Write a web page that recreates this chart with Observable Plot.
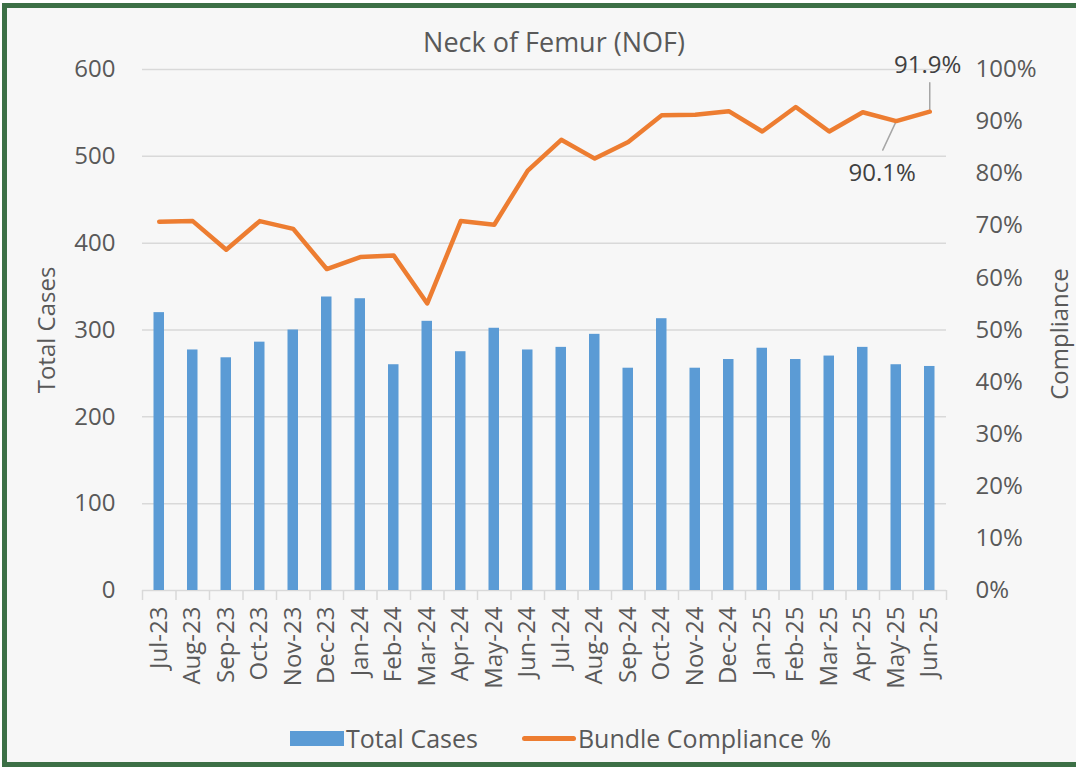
<!DOCTYPE html>
<html>
<head>
<meta charset="utf-8">
<script src="https://cdn.jsdelivr.net/npm/d3@7"></script>
<script src="https://cdn.jsdelivr.net/npm/@observablehq/plot@0.6"></script>
<style>
  html, body { margin: 0; padding: 0; background: #ffffff; width: 1076px; height: 767px; overflow: hidden; }
  body { position: relative; font-family: "Open Sans", sans-serif; color: #595959; }
  #frame { position: absolute; left: 2px; top: 3px; width: 1090px; height: 754px; border: 5px solid #3c7046; background: #f7f7f7; }
  #chart { position: absolute; left: 0; top: 0; }
  #title { position: absolute; left: 554px; top: 24px; transform: translateX(-50%); font-size: 27px; line-height: 36px; white-space: nowrap; color: #595959; }
  #legend { position: absolute; left: 290px; top: 722px; height: 32px; display: flex; align-items: center; font-size: 25px; color: #595959; white-space: nowrap; }
  .sw-bar { width: 54px; height: 15px; background: #5b9bd5; margin-right: 2px; }
  .sw-line { width: 54px; height: 5px; border-radius: 3px; background: #ed7d31; margin-left: 44px; margin-right: 2px; }
</style>
</head>
<body>
<div id="frame"></div>
<div id="chart"></div>
<div id="title">Neck of Femur (NOF)</div>
<div id="legend"><span class="sw-bar"></span><span>Total Cases</span><span class="sw-line"></span><span>Bundle Compliance %</span></div>
<script>
const months = ["Jul-23","Aug-23","Sep-23","Oct-23","Nov-23","Dec-23","Jan-24","Feb-24","Mar-24","Apr-24","May-24","Jun-24","Jul-24","Aug-24","Sep-24","Oct-24","Nov-24","Dec-24","Jan-25","Feb-25","Mar-25","Apr-25","May-25","Jun-25"];
const totalCases = [320,277,268,286,300,338,336,260,310,275,302,277,280,295,256,313,256,266,279,266,270,280,260,258];
const compliance = [70.8,70.9,65.4,70.9,69.4,61.7,64.0,64.3,55.1,70.9,70.2,80.6,86.5,82.9,86.1,91.2,91.3,92.0,88.1,92.8,88.1,91.8,90.1,91.9];
const leftTicks = [0,100,200,300,400,500,600];
const rightTicks = [0,10,20,30,40,50,60,70,80,90,100];
const annotationMonths = ["May-25","Jun-25"];
const annotationLabels = ["90.1%","91.9%"];

const yMax = 600;
const pctToY = p => p * yMax / 100;

const data = months.map((m, i) => ({month: m, cases: totalCases[i], pct: compliance[i]}));
const annos = annotationMonths.map((m, i) => ({month: m, pct: compliance[months.indexOf(m)], label: annotationLabels[i]}));

const W = 1076, H = 710, ML = 142, MR = 130, MT = 69, MB = 120;
const bw = (W - ML - MR) / months.length;
const barW = 10.5;
const grey = "#d9d9d9";
const lineShape = {draw(ctx, l) { ctx.moveTo(0, 0); ctx.lineTo(0, -l); }};

const chart = Plot.plot({
  width: W, height: H,
  marginLeft: ML, marginRight: MR, marginTop: MT, marginBottom: MB,
  style: {background: "transparent", color: "#595959", fontFamily: "Open Sans", overflow: "visible"},
  x: {type: "band", domain: months, padding: 0, round: false},
  y: {domain: [0, yMax]},
  marks: [
    Plot.ruleY(leftTicks, {stroke: grey, strokeWidth: 1.5}),
    Plot.ruleX(months, {x: d => d, y1: 0, y2: -11.5, dx: -bw / 2, stroke: grey, strokeWidth: 1.5}),
    Plot.ruleX(months.slice(-1), {x: d => d, y1: 0, y2: -11.5, dx: bw / 2, stroke: grey, strokeWidth: 1.5}),
    Plot.barY(data, {x: "month", y: "cases", fill: "#5b9bd5", insetLeft: (bw - barW) / 2, insetRight: (bw - barW) / 2}),
    Plot.axisY(leftTicks, {anchor: "left", tickSize: 0, tickPadding: 27, fontSize: 24, label: null}),
    Plot.axisY(rightTicks.map(pctToY), {anchor: "right", tickSize: 0, tickPadding: 29, fontSize: 24, label: null,
      tickFormat: d => `${Math.round(d * 100 / yMax)}%`}),
    Plot.axisX({tickRotate: -90, tickSize: 0, tickPadding: 16, fontSize: 24, label: null}),
    Plot.text(["Total Cases"], {frameAnchor: "left", textAnchor: "middle", rotate: -90, dx: -95, fontSize: 24, fill: "#595959"}),
    Plot.text(["Compliance"], {frameAnchor: "right", textAnchor: "middle", rotate: -90, dx: 114, dy: 4, fontSize: 24, fill: "#595959"}),
    Plot.vector(annos.slice(1), {x: "month", y: d => pctToY(d.pct), length: 29, rotate: 0, anchor: "start", shape: lineShape, stroke: "#a6a6a6", strokeWidth: 1.5}),
    Plot.vector(annos.slice(0, 1), {x: "month", y: d => pctToY(d.pct), length: 32, rotate: 205, anchor: "start", shape: lineShape, stroke: "#a6a6a6", strokeWidth: 1.5}),
    Plot.lineY(data, {x: "month", y: d => pctToY(d.pct), stroke: "#ed7d31", strokeWidth: 4.5, strokeLinejoin: "round", strokeLinecap: "round"}),
    Plot.text(annos.slice(1), {x: "month", y: d => pctToY(d.pct), text: "label", dx: -2, dy: -46, fontSize: 24, fill: "#404040"}),
    Plot.text(annos.slice(0, 1), {x: "month", y: d => pctToY(d.pct), text: "label", dx: -14, dy: 52, fontSize: 24, fill: "#404040"})
  ]
});
document.getElementById("chart").appendChild(chart);
</script>
</body>
</html>
